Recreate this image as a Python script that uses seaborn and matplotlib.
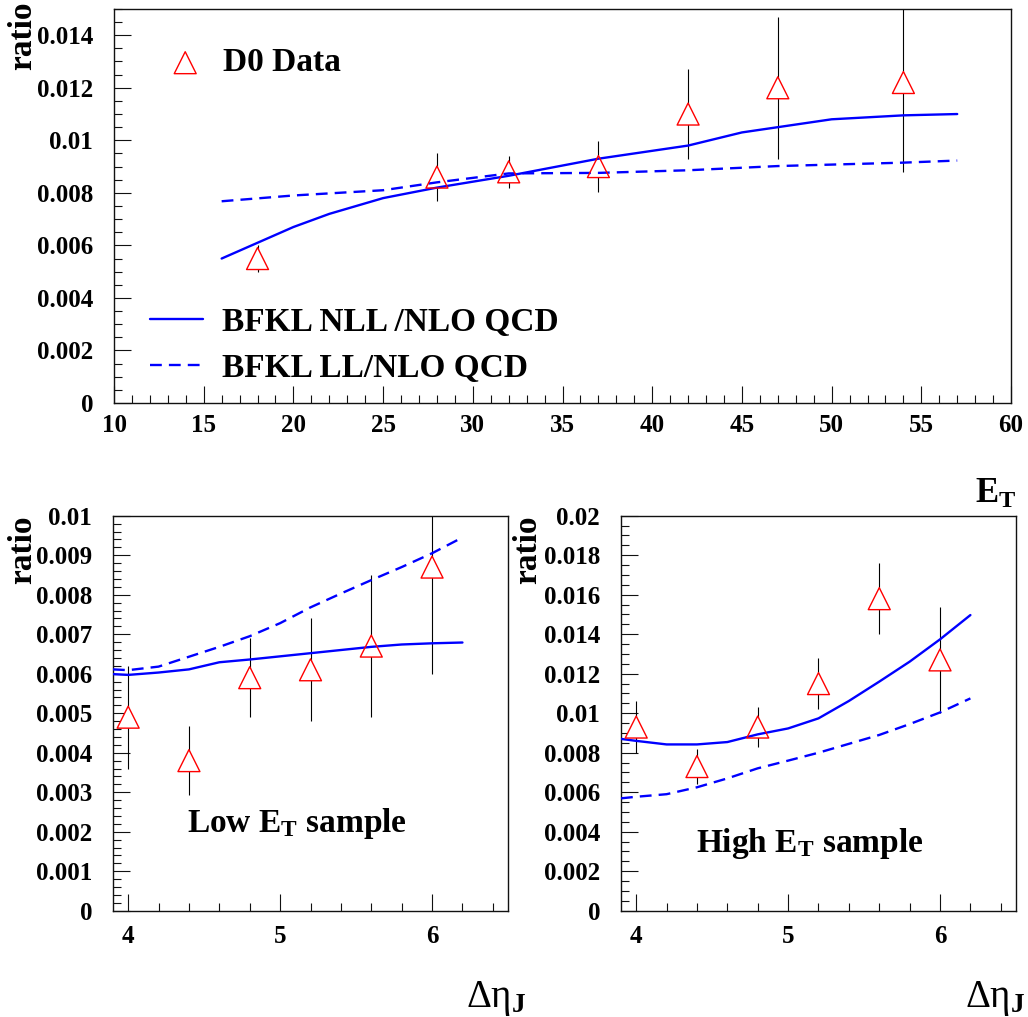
import numpy as np
import pandas as pd
import seaborn as sns
import matplotlib as mpl
import matplotlib.pyplot as plt
from matplotlib.ticker import MultipleLocator, FuncFormatter

# data
et_points = [18, 28, 32, 37, 42, 47, 54]
et_ratio = [0.0055, 0.0086, 0.0088, 0.0090, 0.0110, 0.0120, 0.0122]
et_err = [0.0005, 0.0009, 0.0006, 0.00097, 0.0017, 0.0027, 0.0034]

et_nll_x = [16, 18, 20, 22, 25, 28, 32, 37, 42, 45, 47, 50, 54, 57]
et_nll = [0.0055, 0.0061, 0.0067, 0.0072, 0.0078, 0.0082, 0.00865, 0.0093,
          0.0098, 0.0103, 0.0105, 0.0108, 0.01095, 0.0110]
et_ll_x = [16, 20, 25, 28, 32, 37, 42, 47, 54, 57]
et_ll = [0.00768, 0.0079, 0.0081, 0.0084, 0.00874, 0.00876, 0.00886, 0.00902,
         0.00915, 0.00923]

eta_points = [4.0, 4.4, 4.8, 5.2, 5.6, 6.0]
low_ratio = [0.0049, 0.0038, 0.0059, 0.0061, 0.0067, 0.0087]
low_err = [0.0013, 0.00087, 0.0010, 0.0013, 0.0018, 0.0027]
high_ratio = [0.0093, 0.0073, 0.0093, 0.0115, 0.0158, 0.0127]
high_err = [0.0013, 0.00088, 0.0010, 0.0013, 0.0018, 0.0027]

eta_curve = [3.9, 4.0, 4.2, 4.4, 4.6, 4.8, 5.0, 5.2, 5.4, 5.6, 5.8, 6.0, 6.2]
low_nll = [0.00599, 0.00597, 0.00603, 0.00611, 0.00629, 0.00636, 0.00644,
           0.00652, 0.0066, 0.00668, 0.00674, 0.00677, 0.00679]
low_ll = [0.00611, 0.00609, 0.00618, 0.00643, 0.00668, 0.00695, 0.00728,
          0.00768, 0.00803, 0.00837, 0.0087, 0.00905, 0.00945]
high_nll = [0.0087, 0.0086, 0.00842, 0.00842, 0.00854, 0.00893, 0.00923,
            0.00974, 0.01062, 0.0116, 0.01261, 0.01374, 0.01497]
high_ll = [0.00569, 0.00577, 0.0059, 0.00625, 0.0067, 0.00721, 0.0076,
           0.008, 0.00845, 0.0089, 0.00945, 0.01004, 0.01075]

# style
sns.set_style('white')
mpl.rcParams['font.family'] = ['Liberation Serif', 'DejaVu Serif']
mpl.rcParams['font.weight'] = 'bold'
for key in ['text.color', 'axes.labelcolor', 'xtick.color', 'ytick.color',
            'axes.edgecolor']:
    mpl.rcParams[key] = 'black'
mpl.rcParams['mathtext.fontset'] = 'custom'
mpl.rcParams['mathtext.rm'] = 'Liberation Serif:weight=normal'
mpl.rcParams['mathtext.it'] = 'Liberation Serif:italic:weight=normal'
mpl.rcParams['mathtext.bf'] = 'Liberation Serif:weight=bold'

BLUE = '#0000ff'
DASH = (0, (5, 3))
fmt = FuncFormatter(lambda v, p: '%g' % round(v, 6))

fig = plt.figure(figsize=(10.28, 10.17), dpi=100)
ax_top = fig.add_axes([0.1109, 0.6037, 0.8726, 0.3875])
ax_low = fig.add_axes([0.1099, 0.1045, 0.3843, 0.3884])
ax_high = fig.add_axes([0.6041, 0.1045, 0.3842, 0.3884])


def draw_panel(ax, x, y, err, cx_nll, nll, cx_ll, ll):
    ax.errorbar(x, y, yerr=err, fmt='none', ecolor='black', elinewidth=0.8,
                capsize=0, zorder=1)
    # white fill hides the error bar inside the hollow marker
    sns.scatterplot(x=x, y=y, ax=ax, marker='^', s=250, color='white',
                    edgecolor='none', linewidth=0, zorder=2, legend=False)
    sns.lineplot(x=cx_nll, y=nll, ax=ax, color=BLUE, lw=1.7, zorder=3,
                 label='BFKL NLL /NLO QCD')
    sns.lineplot(x=cx_ll, y=ll, ax=ax, color=BLUE, lw=1.7, linestyle=DASH,
                 zorder=3, label='BFKL LL/NLO QCD')
    pts = ax.scatter(x, y, marker='^', s=250, facecolors='none',
                     edgecolors='red', linewidths=1.0, zorder=4,
                     label='D0 Data')
    for s in ax.spines.values():
        s.set_color('#111111')
        s.set_linewidth(1.0)
    ax.tick_params(which='both', direction='in', left=True, bottom=True,
                   right=False, top=False, width=0.8, color='#111111',
                   labelsize=18)
    ax.tick_params(which='major', length=12)
    ax.tick_params(which='minor', length=6)
    ax.tick_params(axis='y', pad=15)
    ax.yaxis.set_major_formatter(fmt)
    ax.xaxis.set_major_formatter(fmt)
    ax.set_xlabel('')
    ax.set_ylabel('')
    return pts


pts = draw_panel(ax_top, et_points, et_ratio, et_err, et_nll_x, et_nll, et_ll_x, et_ll)
ax_top.set_xlim(10, 60)
ax_top.set_ylim(0, 0.015)
ax_top.xaxis.set_major_locator(MultipleLocator(5))
ax_top.xaxis.set_minor_locator(MultipleLocator(1))
ax_top.yaxis.set_major_locator(MultipleLocator(0.002))
ax_top.yaxis.set_minor_locator(MultipleLocator(0.0005))
ax_top.tick_params(axis='x', pad=8)

lines = ax_top.get_lines()
handles = [l for l in lines if l.get_label().startswith('BFKL')]
leg_font = {'family': 'Liberation Serif', 'weight': 'bold', 'size': 24}
leg1 = ax_top.legend([pts], ['D0 Data'], loc='center left',
                     bbox_to_anchor=(0.0608, 0.863), frameon=False,
                     prop=leg_font, handlelength=1.0, handletextpad=0.62,
                     borderpad=0, borderaxespad=0)
ax_top.add_artist(leg1)
ax_top.legend(handles, [h.get_label() for h in handles], loc='center left',
              bbox_to_anchor=(0.0401, 0.147), frameon=False, prop=leg_font,
              handlelength=1.6, handletextpad=0.57, labelspacing=0.45,
              borderpad=0, borderaxespad=0)

for ax, yv, ev, nll, ll, ymax, major, minor in [
        (ax_low, low_ratio, low_err, low_nll, low_ll, 0.01, 0.001, 0.0002),
        (ax_high, high_ratio, high_err, high_nll, high_ll, 0.02, 0.002, 0.0005)]:
    draw_panel(ax, eta_points, yv, ev, eta_curve, nll, eta_curve, ll)
    if ax.get_legend():
        ax.get_legend().remove()
    ax.set_xlim(3.9, 6.5)
    ax.set_ylim(0, ymax)
    ax.xaxis.set_major_locator(MultipleLocator(1))
    ax.xaxis.set_minor_locator(MultipleLocator(0.2))
    ax.yaxis.set_major_locator(MultipleLocator(major))
    ax.yaxis.set_minor_locator(MultipleLocator(minor))
    ax.tick_params(axis='x', pad=10)

ax_low.text(0.466, 0.199, r'Low $\mathbf{E_T}$ sample', transform=ax_low.transAxes,
            ha='center', va='baseline', fontsize=24, fontweight='bold')
ax_high.text(0.478, 0.149, r'High $\mathbf{E_T}$ sample', transform=ax_high.transAxes,
             ha='center', va='baseline', fontsize=24, fontweight='bold')

# axis titles, placed ROOT style
for xt, yt in [(23, 1), (23, 515), (528, 515)]:
    fig.text(xt / 1028, 1 - yt / 1017, 'ratio', rotation=90, ha='center',
             va='top', fontsize=24, fontweight='bold')
fig.text(1016 / 1028, 1 - 503 / 1017, r'$\mathbf{E_T}$', ha='right',
         va='baseline', fontsize=25)
for xr in [527, 1026]:
    fig.text(xr / 1028, 1 - 1007 / 1017, r'$\mathrm{\Delta\eta}_\mathbf{J}$',
             ha='right', va='baseline', fontsize=28)

fig.savefig('out.png', dpi=100, facecolor='white')
